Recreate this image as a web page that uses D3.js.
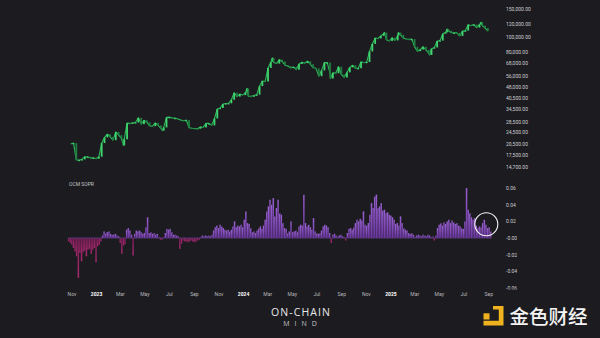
<!DOCTYPE html>
<html><head><meta charset="utf-8">
<script src="https://cdn.jsdelivr.net/npm/d3@7"></script>
<style>
html,body{margin:0;padding:0;background:#1c1b20;}
svg{display:block;}
</style></head>
<body><svg id="chart" width="600" height="338"></svg>
<script>
// BTC closes (USD thousands), weekly with a few intraweek extremes
const btc2022 = [["2022-10-30",20.6],["2022-11-06",20.9],["2022-11-13",16.3],["2022-11-20",16.3],["2022-11-27",16.45],
  ["2022-12-04",17.1],["2022-12-11",17.1],["2022-12-18",16.75],["2022-12-25",16.85]];
const btc2023 = [["2023-01-01",16.6],["2023-01-08",17.1],["2023-01-15",20.9],["2023-01-22",22.7],["2023-01-29",23.8],
  ["2023-02-05",22.9],["2023-02-12",21.8],["2023-02-19",24.6],["2023-02-26",23.5],["2023-03-05",22.4],["2023-03-10",20.2],
  ["2023-03-12",22.1],["2023-03-19",28.0],["2023-03-26",27.9],["2023-04-02",28.2],["2023-04-09",28.3],["2023-04-16",30.3],
  ["2023-04-23",27.6],["2023-04-30",29.2],["2023-05-07",28.4],["2023-05-14",26.9],["2023-05-21",26.8],["2023-05-28",28.1],
  ["2023-06-04",27.1],["2023-06-11",25.9],["2023-06-15",25.1],["2023-06-18",26.3],["2023-06-25",30.5],["2023-07-02",30.6],
  ["2023-07-09",30.2],["2023-07-16",30.2],["2023-07-23",29.8],["2023-07-30",29.3],["2023-08-06",29.0],["2023-08-13",29.3],
  ["2023-08-20",26.2],["2023-08-27",26.0],["2023-09-03",25.9],["2023-09-10",25.8],["2023-09-17",26.5],["2023-09-24",26.3],
  ["2023-10-01",27.9],["2023-10-08",27.9],["2023-10-15",27.1],["2023-10-22",30.0],["2023-10-29",34.5],["2023-11-05",35.0],
  ["2023-11-12",37.1],["2023-11-19",37.4],["2023-11-26",37.5],["2023-12-03",39.5],["2023-12-10",43.8],["2023-12-17",41.4],
  ["2023-12-24",43.0],["2023-12-31",42.3]];
const btc2024 = [["2024-01-07",43.9],["2024-01-11",46.6],["2024-01-14",41.7],["2024-01-21",41.6],["2024-01-28",42.0],
  ["2024-02-04",42.6],["2024-02-11",48.3],["2024-02-18",52.1],["2024-02-25",51.7],["2024-03-03",63.1],["2024-03-10",68.9],
  ["2024-03-14",73.1],["2024-03-17",68.4],["2024-03-24",67.2],["2024-03-31",71.3],["2024-04-07",69.4],["2024-04-14",65.7],
  ["2024-04-21",64.9],["2024-04-28",63.1],["2024-05-05",64.0],["2024-05-12",61.5],["2024-05-19",66.9],["2024-05-26",68.5],
  ["2024-06-02",67.7],["2024-06-09",69.6],["2024-06-16",66.6],["2024-06-23",63.2],["2024-06-30",62.7],["2024-07-07",55.9],
  ["2024-07-14",60.8],["2024-07-21",68.2],["2024-07-28",68.3],["2024-08-04",58.2],["2024-08-05",54.0],["2024-08-11",58.7],
  ["2024-08-18",58.4],["2024-08-25",64.2],["2024-09-01",57.3],["2024-09-08",54.8],["2024-09-15",59.1],["2024-09-22",63.6],
  ["2024-09-29",65.6],["2024-10-06",62.8],["2024-10-13",62.8],["2024-10-20",69.0],["2024-10-27",68.0],["2024-11-03",68.8],
  ["2024-11-10",80.4],["2024-11-17",89.8],["2024-11-24",97.9],["2024-12-01",97.3],["2024-12-08",101.1],["2024-12-15",104.5],
  ["2024-12-17",106.1],["2024-12-22",95.3],["2024-12-29",93.7]];
const btc2025 = [["2025-01-05",98.3],["2025-01-12",94.5],["2025-01-19",101.3],["2025-01-21",106.0],["2025-01-26",102.6],
  ["2025-02-02",97.7],["2025-02-09",96.5],["2025-02-16",96.1],["2025-02-23",96.3],["2025-03-02",86.0],["2025-03-09",80.7],
  ["2025-03-16",82.6],["2025-03-23",86.1],["2025-03-30",82.3],["2025-04-06",78.4],["2025-04-08",76.3],["2025-04-13",83.7],
  ["2025-04-20",85.2],["2025-04-27",93.7],["2025-05-04",94.3],["2025-05-11",104.2],["2025-05-18",106.4],["2025-05-22",111.7],
  ["2025-05-25",109.0],["2025-06-01",105.7],["2025-06-08",105.7],["2025-06-15",105.6],["2025-06-22",100.9],["2025-06-29",108.4],
  ["2025-07-06",109.2],["2025-07-13",119.1],["2025-07-20",117.3],["2025-07-27",119.4],["2025-08-03",114.2],["2025-08-10",119.3],
  ["2025-08-14",123.5],["2025-08-17",117.4],["2025-08-24",113.4],["2025-08-31",108.3]];

// OCM SOPR deviation from 1, in thousandths, one value per 4-day bucket
const soprStart = "2022-10-23";
const soprStepDays = 4;
const soprMilli = [-4,-6,-8,-12,-16,-22,-48,-18,-28,-17,
  -15,-22,-14,-13,-19,-14,-12,-29,-10,-8,
  -4,3,8,6,7,8,5,4,4,5,
  3,2,-6,-19,-9,-7,10,12,9,4,
  -21,5,9,8,9,7,5,6,13,25,
  6,7,5,6,4,5,1,-2,-2,1,
  6,11,10,11,7,4,4,3,2,-13,
  -7,-3,-4,-4,-5,-4,-3,-4,-5,-4,
  -3,-2,1,3,2,3,2,3,2,4,
  9,13,15,12,16,14,12,10,9,10,
  8,10,14,20,13,15,14,16,13,22,
  32,18,17,12,7,8,6,9,12,14,
  11,15,22,32,38,46,40,48,26,36,
  46,30,28,18,12,11,6,8,20,7,
  8,9,7,14,16,15,52,18,14,16,
  13,10,24,8,6,5,6,9,14,16,
  15,13,6,-6,4,5,3,2,3,4,
  2,1,-3,6,11,12,10,13,18,22,
  20,23,21,32,16,15,18,28,42,36,
  50,52,36,38,42,33,34,30,31,28,
  27,25,22,17,18,15,26,18,12,10,
  9,6,5,6,4,1,3,4,3,2,
  4,3,2,4,3,1,2,-3,3,12,
  16,18,15,19,17,20,22,18,21,19,
  17,18,15,14,12,11,20,60,34,30,
  25,22,24,15,12,14,13,18,22,16,
  12,13,8];

const priceTicks = [150000,120000,100000,80000,68000,56000,48000,40500,34500,28500,24500,20500,17500,14700];
const soprTicks = [0.06,0.04,0.02,0,-0.02,-0.04,-0.06];
const soprTickLabels = ["0.06","0.04","0.02","-0.00","-0.02","-0.04","-0.06"];
const timeTicks = ["2022-11-01","2023-01-01","2023-03-01","2023-05-01","2023-07-01","2023-09-01","2023-11-01",
  "2024-01-01","2024-03-01","2024-05-01","2024-07-01","2024-09-01","2024-11-01",
  "2025-01-01","2025-03-01","2025-05-01","2025-07-01","2025-09-01"];
const timeTickLabels = ["Nov","2023","Mar","May","Jul","Sep","Nov","2024","Mar","May","Jul","Sep","Nov","2025","Mar","May","Jul","Sep"];
const highlightDate = "2025-08-27";
const highlightValue = 0.0165;

const parse = d3.timeParse("%Y-%m-%d");
const svg = d3.select("#chart");
const BG = "#1c1b20";
const FONT = "Roboto, 'Noto Sans', sans-serif";

svg.append("rect").attr("width", 600).attr("height", 338).attr("fill", BG);

const x = d3.scaleTime().domain([parse("2022-10-01"), parse("2025-10-01")]).range([59, 500.4]);
const yP = d3.scaleLog().domain([14700, 150000]).range([167, 9]);
const yS = d3.scaleLinear().domain([-0.06, 0.06]).range([288, 188]);

// ---- price panel ----
const prices = [...btc2022, ...btc2023, ...btc2024, ...btc2025]
  .map(([d, v]) => ({ date: parse(d), close: v * 1000 }))
  .sort((a, b) => a.date - b.date);

const priceG = svg.append("g");
priceG.append("path")
  .datum(prices)
  .attr("fill", "none")
  .attr("stroke", "#2db85a")
  .attr("stroke-width", 1.1)
  .attr("stroke-linejoin", "round")
  .attr("d", d3.line().x(d => x(d.date)).y(d => yP(d.close)));

const candles = prices.slice(1).map((d, i) => ({ date: d.date, open: prices[i].close, close: d.close }));
priceG.selectAll("rect.candle")
  .data(candles)
  .join("rect")
  .attr("class", "candle")
  .attr("x", d => x(d.date) - 0.9)
  .attr("width", 1.8)
  .attr("y", d => yP(Math.max(d.open, d.close)))
  .attr("height", d => Math.max(1.2, Math.abs(yP(d.open) - yP(d.close))))
  .attr("fill", d => d.close >= d.open ? "#3fd46e" : "#1f7e40");

const axP = d3.axisRight(yP).tickValues(priceTicks).tickFormat(d3.format(",.2f")).tickSize(0).tickPadding(0);
const gP = svg.append("g").attr("transform", "translate(506,0)").call(axP);
gP.select(".domain").remove();
gP.selectAll("text").attr("font-family", FONT).attr("font-size", 5).attr("fill", "#cfcfd2");

// ---- SOPR panel ----
const t0 = parse(soprStart);
const sopr = soprMilli.map((v, i) => ({
  date: d3.timeDay.offset(t0, i * soprStepDays),
  end: d3.timeDay.offset(t0, (i + 1) * soprStepDays),
  value: v / 1000
}));

const defs = svg.append("defs");
const gPos = defs.append("linearGradient").attr("id", "gPos").attr("x1", 0).attr("x2", 0).attr("y1", 0).attr("y2", 1);
gPos.append("stop").attr("offset", "0%").attr("stop-color", "#9a60d4");
gPos.append("stop").attr("offset", "100%").attr("stop-color", "#6a36a0");
const gNeg = defs.append("linearGradient").attr("id", "gNeg").attr("x1", 0).attr("x2", 0).attr("y1", 0).attr("y2", 1);
gNeg.append("stop").attr("offset", "0%").attr("stop-color", "#7a1d55");
gNeg.append("stop").attr("offset", "100%").attr("stop-color", "#a82a72");

svg.append("g").selectAll("rect")
  .data(sopr)
  .join("rect")
  .attr("x", d => x(d.date))
  .attr("width", d => x(d.end) - x(d.date))
  .attr("y", d => yS(Math.max(0, d.value)))
  .attr("height", d => Math.abs(yS(d.value) - yS(0)))
  .attr("fill", d => d.value >= 0 ? "url(#gPos)" : "url(#gNeg)")
  .attr("stroke", BG).attr("stroke-width", 0.25).attr("stroke-opacity", 0.6);

svg.append("line")
  .attr("x1", x(t0)).attr("x2", x(sopr[sopr.length - 1].end))
  .attr("y1", yS(0)).attr("y2", yS(0))
  .attr("stroke", "#7d4bb0").attr("stroke-width", 0.6);

svg.append("text").attr("x", 69).attr("y", 186)
  .attr("font-family", FONT).attr("font-size", 5).attr("fill", "#c4c4c8").text("OCM SOPR");

defs.append("clipPath").attr("id", "soprAxisClip")
  .append("rect").attr("x", 500).attr("y", 180).attr("width", 60).attr("height", 109.5);
const axS = d3.axisRight(yS).tickValues(soprTicks)
  .tickFormat((d, i) => soprTickLabels[i]).tickSize(0).tickPadding(0);
const gS = svg.append("g").attr("clip-path", "url(#soprAxisClip)")
  .append("g").attr("transform", "translate(506,0)").call(axS);
gS.select(".domain").remove();
gS.selectAll("text").attr("font-family", FONT).attr("font-size", 5).attr("fill", "#cfcfd2");

// highlight ring around the latest readings
svg.append("circle")
  .attr("cx", x(parse(highlightDate))).attr("cy", yS(highlightValue)).attr("r", 11.5)
  .attr("fill", "none").attr("stroke", "#f2f2f2").attr("stroke-width", 1.1);

// ---- time axis ----
const axT = d3.axisBottom(x).tickValues(timeTicks.map(parse))
  .tickFormat((d, i) => timeTickLabels[i]).tickSize(0).tickPadding(0);
const gT = svg.append("g").attr("transform", "translate(0,292)").call(axT);
gT.select(".domain").remove();
gT.selectAll("text").attr("font-family", FONT).attr("font-size", 5)
  .attr("fill", (d, i) => /^\d{4}$/.test(timeTickLabels[i]) ? "#ffffff" : "#b8b8bc")
  .attr("font-weight", (d, i) => /^\d{4}$/.test(timeTickLabels[i]) ? 700 : 400);

// ---- branding ----
svg.append("text").attr("x", 301).attr("y", 315.5).attr("text-anchor", "middle")
  .attr("font-family", "'Open Sans', sans-serif").attr("font-size", 10.5).attr("font-weight", 500)
  .attr("letter-spacing", 1.1).attr("fill", "#e8e8ea").text("ON-CHAIN");
svg.append("text").attr("x", 302.5).attr("y", 325.5).attr("text-anchor", "middle")
  .attr("font-family", "'Open Sans', sans-serif").attr("font-size", 7).attr("font-weight", 400)
  .attr("letter-spacing", 5).attr("fill", "#c2c2c6").text("MIND");

const logo = svg.append("g").attr("fill", "#efb320");
logo.append("rect").attr("x", 483.5).attr("y", 313.3).attr("width", 6).attr("height", 6.2);
logo.append("path").attr("d", "M493,306 H503.5 V325.5 H483.5 V320.8 H498.8 V309.6 H493 Z");
svg.append("text").attr("x", 509.5).attr("y", 323.5)
  .attr("font-family", "'Noto Sans CJK SC', sans-serif").attr("font-size", 19.5).attr("font-weight", 500)
  .attr("fill", "#f4f4f4").text("金色财经");
</script>
</body></html>
